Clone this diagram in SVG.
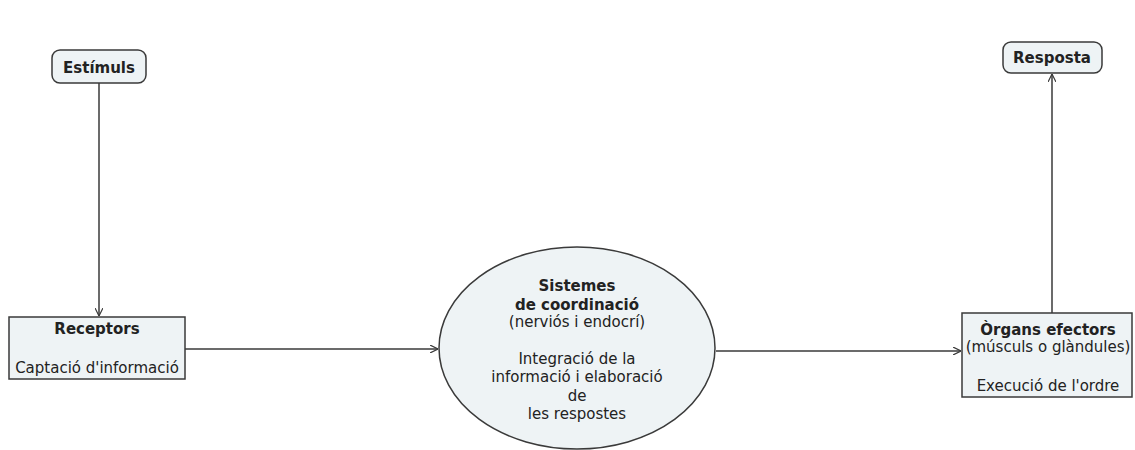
<svg xmlns="http://www.w3.org/2000/svg" width="1135" height="450" viewBox="0 0 1135 450">
<defs>
<style>
.node{fill:#eef3f5;stroke:#3a3a3a;stroke-width:1.5}
text{font-family:"DejaVu Sans",Verdana,sans-serif;font-size:15px;fill:#222;text-anchor:middle}
.b{font-weight:bold}
.edge{stroke:#3a3a3a;stroke-width:1.5;fill:none;marker-end:url(#arr)}
</style>
<marker id="arr" viewBox="0 0 10 10" refX="10" refY="5" markerWidth="8" markerHeight="8" markerUnits="userSpaceOnUse" orient="auto">
<path d="M0,0 L10,5 L0,10" fill="none" stroke="#3a3a3a" stroke-width="1.5"/>
</marker>
</defs>
<rect width="1135" height="450" fill="#fff"/>
<g id="connectors">
<line class="edge" x1="99" y1="83" x2="99" y2="316"/>
<line class="edge" x1="185" y1="349" x2="438" y2="349"/>
<line class="edge" x1="716" y1="351" x2="961" y2="351"/>
<line class="edge" x1="1052" y1="313" x2="1052" y2="74"/>
</g>
<g id="estimuls">
<rect class="node" x="52" y="50" width="94" height="33" rx="8"/>
<text class="b" x="99" y="73">Estímuls</text>
</g>
<g id="receptors">
<rect class="node" x="9" y="317" width="176" height="62"/>
<text class="b" x="97" y="334">Receptors</text>
<text x="97" y="373">Captació d'informació</text>
</g>
<g id="sistemes">
<ellipse class="node" cx="577" cy="348" rx="138" ry="101"/>
<text class="b" x="577" y="291">Sistemes</text>
<text class="b" x="577" y="310">de coordinació</text>
<text x="577" y="327">(nerviós i endocrí)</text>
<text x="577" y="364">Integració de la</text>
<text x="577" y="382">informació i elaboració</text>
<text x="577" y="401">de</text>
<text x="577" y="419">les respostes</text>
</g>
<g id="organs">
<rect class="node" x="962" y="313" width="170" height="84"/>
<text class="b" x="1048" y="335">Òrgans efectors</text>
<text x="1048" y="352">(músculs o glàndules)</text>
<text x="1048" y="391">Execució de l'ordre</text>
</g>
<g id="resposta">
<rect class="node" x="1003" y="42" width="99" height="31" rx="8"/>
<text class="b" x="1052" y="63">Resposta</text>
</g>
</svg>
